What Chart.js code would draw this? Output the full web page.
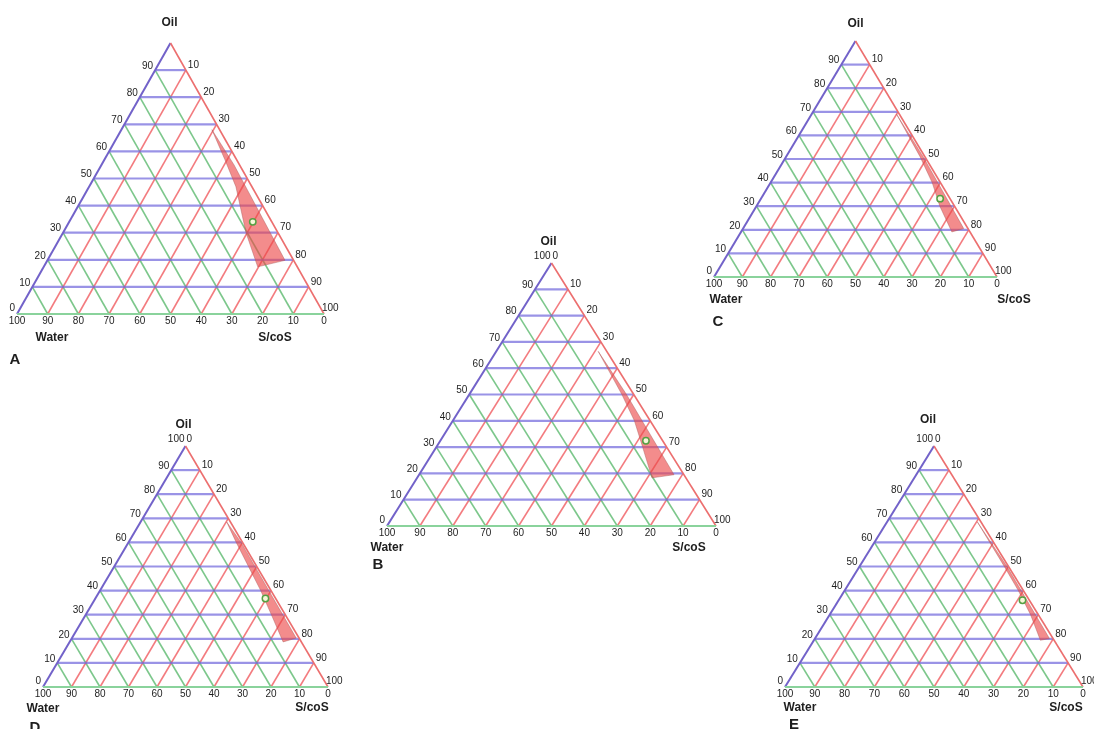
<!DOCTYPE html>
<html>
<head>
<meta charset="utf-8">
<script src="https://cdn.jsdelivr.net/npm/chart.js@4.4.0/dist/chart.umd.min.js"></script>
<style>
  body { margin: 0; background: #fff; width: 1094px; height: 729px; overflow: hidden; position: relative; }
  canvas { position: absolute; }
</style>
</head>
<body>
<script>
// grid and tick values (percent)
const gridSteps = [10, 20, 30, 40, 50, 60, 70, 80, 90];
const oilTicks = [0, 10, 20, 30, 40, 50, 60, 70, 80, 90];
const scosTicks = [10, 20, 30, 40, 50, 60, 70, 80, 90, 100];
const waterTicks = [100, 90, 80, 70, 60, 50, 40, 30, 20, 10, 0];

// microemulsion region for each plot, points as [oil, water] in %
const regionA = [[68, 2.5], [57, 3.8], [47, 5.2], [30, 10.4], [17.4, 12.9], [19.8, 2.8], [55, 1.8]];
const regionB = [[66.4, 2.6], [50, 3.6], [40, 4.8], [30, 7.3], [18.3, 10.3], [19.5, 3.0], [50, 2.2]];
const regionC = [[69, 1.0], [51, 1.7], [40, 2.9], [30, 5.2], [19.1, 6.4], [20.5, 1.5], [51, 0.6]];
const regionD = [[68.5, 1.3], [60, 2.2], [40, 3.6], [29, 5.0], [18.7, 6.4], [20.3, 1.0], [60, 0.5]];
const regionE = [[68.5, 1.2], [50, 1.4], [40, 1.7], [30, 2.6], [19.4, 4.6], [20.1, 1.2], [50, 0.5]];

// selected formulation, [oil, water] in %
const pointA = [34, 6.2];
const pointB = [32.4, 5.1];
const pointC = [33.2, 3.5];
const pointD = [36.7, 3.6];
const pointE = [36, 2.3];

// where each triangle sits on the page (bottom-left corner x, apex y, size)
const panels = [
  { name: 'A', left: 17, top: 43, width: 307, height: 271, apex100: false, region: regionA, point: pointA,
    oilPos: [-1, -20], waterPos: [35, 24], scosPos: [-49, 24], letterPos: [-2, 46] },
  { name: 'B', left: 387, top: 263, width: 329, height: 263, apex100: true, region: regionB, point: pointB,
    oilPos: [-3, -21], waterPos: [0, 22], scosPos: [-27, 22], letterPos: [-9, 39] },
  { name: 'C', left: 714, top: 41, width: 283, height: 236, apex100: false, region: regionC, point: pointC,
    oilPos: [0, -17], waterPos: [12, 23], scosPos: [17, 23], letterPos: [4, 45] },
  { name: 'D', left: 43, top: 446, width: 285, height: 241, apex100: true, region: regionD, point: pointD,
    oilPos: [-2, -21], waterPos: [0, 22], scosPos: [-16, 21], letterPos: [-8, 41] },
  { name: 'E', left: 785, top: 446, width: 298, height: 241, apex100: true, region: regionE, point: pointE,
    oilPos: [-6, -26], waterPos: [15, 21], scosPos: [-17, 21], letterPos: [9, 38] }
];

const PAD = { left: 40, right: 45, top: 45, bottom: 60 };
const FONT = '"Liberation Sans", Arial, sans-serif';

// oil + water -> plot coords (S/coS is the rest)
function tern(oil, water) {
  const s = 100 - oil - water;
  return { x: s + oil / 2, y: oil };
}

function seg(a, b, color, width, order) {
  return {
    data: [a, b], showLine: true, borderColor: color, borderWidth: width,
    pointRadius: 0, fill: false, clip: false, order: order
  };
}

function buildDatasets(p) {
  const ds = [];
  gridSteps.forEach(g => {
    ds.push(seg(tern(0, g), tern(100 - g, g), 'rgba(80,180,100,0.75)', 1.6, 5));      // water
    ds.push(seg(tern(0, 100 - g), tern(100 - g, 0), 'rgba(240,90,95,0.8)', 1.6, 5));   // s/cos
    ds.push(seg(tern(g, 100 - g), tern(g, 0), 'rgba(115,105,220,0.72)', 2.2, 4));      // oil
  });
  ds.push(seg(tern(0, 100), tern(0, 0), '#8ad39c', 2, 3));
  ds.push(seg(tern(0, 0), tern(100, 0), '#ec6f6f', 1.6, 3));
  ds.push(seg(tern(0, 100), tern(100, 0), '#7262c9', 2, 3));

  const poly = p.region.map(v => tern(v[0], v[1]));
  poly.push(poly[0]);
  ds.push({
    data: poly, showLine: true, fill: 'shape', backgroundColor: 'rgba(236,70,70,0.62)',
    borderColor: 'rgba(170,90,90,0.55)', borderWidth: 0.8, pointRadius: 0, clip: false, order: 1, tension: 0
  });
  ds.push({
    data: [tern(p.point[0], p.point[1])], pointRadius: 3.2, backgroundColor: '#f6f6d8',
    borderColor: '#55a044', borderWidth: 1.5, clip: false, order: 0
  });
  return ds;
}

function labelPlugin(p) {
  return {
    id: 'ternLabels' + p.name,
    afterDatasetsDraw(chart) {
      const c = chart.ctx;
      const xs = chart.scales.x, ys = chart.scales.y;
      const px = t => xs.getPixelForValue(t.x);
      const py = t => ys.getPixelForValue(t.y);
      c.save();
      c.fillStyle = '#1e1e1e';
      c.font = '10px ' + FONT;

      // oil, left side
      c.textAlign = 'right';
      c.textBaseline = 'bottom';
      oilTicks.forEach(v => {
        const t = tern(v, 100 - v);
        c.fillText(String(v), px(t) - 2, py(t) + (v === 0 ? -1 : 1));
      });
      // s/cos, right side
      c.textAlign = 'left';
      scosTicks.forEach(v => {
        const t = tern(100 - v, 0);
        c.fillText(String(v), px(t) + (v === 100 ? -2 : 2), py(t) + (v === 100 ? -1 : 0));
      });
      // water, bottom
      c.textAlign = 'center';
      c.textBaseline = 'top';
      waterTicks.forEach(v => {
        const t = tern(0, v);
        c.fillText(String(v), px(t), py(t) + 2);
      });
      const top = tern(100, 0);
      if (p.apex100) {
        c.textBaseline = 'bottom';
        c.textAlign = 'right';
        c.fillText('100', px(top) - 1, py(top) - 2);
        c.textAlign = 'left';
        c.fillText('0', px(top) + 1, py(top) - 2);
      }

      // axis names
      const bl = tern(0, 100), br = tern(0, 0);
      c.font = 'bold 12px ' + FONT;
      c.textAlign = 'center';
      c.textBaseline = 'middle';
      c.fillText('Oil', px(top) + p.oilPos[0], py(top) + p.oilPos[1]);
      c.fillText('Water', px(bl) + p.waterPos[0], py(bl) + p.waterPos[1]);
      c.fillText('S/coS', px(br) + p.scosPos[0], py(br) + p.scosPos[1]);
      c.font = 'bold 15px ' + FONT;
      c.fillText(p.name, px(bl) + p.letterPos[0], py(bl) + p.letterPos[1]);
      c.restore();
    }
  };
}

panels.forEach(p => {
  const cv = document.createElement('canvas');
  const w = p.width + PAD.left + PAD.right;
  const h = p.height + PAD.top + PAD.bottom;
  cv.width = w;
  cv.height = h;
  cv.style.width = w + 'px';
  cv.style.height = h + 'px';
  cv.style.left = (p.left - PAD.left) + 'px';
  cv.style.top = (p.top - PAD.top) + 'px';
  document.body.appendChild(cv);

  new Chart(cv.getContext('2d'), {
    type: 'scatter',
    data: { datasets: buildDatasets(p) },
    options: {
      responsive: false,
      animation: false,
      layout: { padding: PAD },
      scales: {
        x: { type: 'linear', min: 0, max: 100, display: false },
        y: { type: 'linear', min: 0, max: 100, display: false }
      },
      plugins: { legend: { display: false }, tooltip: { enabled: false } }
    },
    plugins: [labelPlugin(p)]
  });
});
</script>
</body>
</html>
